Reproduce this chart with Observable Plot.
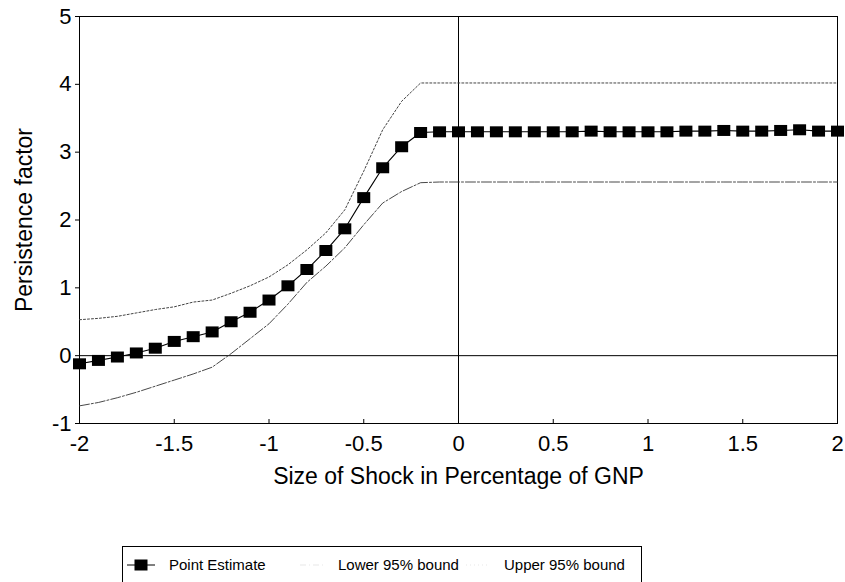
<!DOCTYPE html>
<html>
<head>
<meta charset="utf-8">
<script src="https://cdn.jsdelivr.net/npm/d3@7"></script>
<script src="https://cdn.jsdelivr.net/npm/@observablehq/plot@0.6"></script>
<style>
  body { margin: 0; background: #fff; font-family: "Liberation Sans", Arial, sans-serif; }
  #legend { position: absolute; left: 122px; top: 546px; width: 520px; height: 60px; border: 1px solid #000; box-sizing: border-box; font-size: 15px; color: #000; }
  #legend .item { position: absolute; top: 9px; display: flex; align-items: center; }
  #legend svg { display: block; }
</style>
</head>
<body>
<div id="chart"></div>
<div id="legend"></div>
<script>
const shock = [-2.0,-1.9,-1.8,-1.7,-1.6,-1.5,-1.4,-1.3,-1.2,-1.1,-1.0,-0.9,-0.8,-0.7,-0.6,-0.5,-0.4,-0.3,-0.2,-0.1,
  0.0,0.1,0.2,0.3,0.4,0.5,0.6,0.7,0.8,0.9,1.0,1.1,1.2,1.3,1.4,1.5,1.6,1.7,1.8,1.9,2.0];
const pointEstimate = [-0.12,-0.07,-0.02,0.04,0.11,0.21,0.28,0.35,0.50,0.64,0.82,1.03,1.27,1.55,1.87,2.33,2.77,3.08,3.29,3.30,
  3.30,3.30,3.30,3.30,3.30,3.30,3.30,3.31,3.30,3.30,3.30,3.30,3.31,3.31,3.32,3.31,3.31,3.32,3.33,3.31,3.31];
const lowerBound = [-0.74,-0.69,-0.62,-0.54,-0.45,-0.36,-0.27,-0.17,0.03,0.25,0.47,0.76,1.08,1.32,1.59,1.93,2.25,2.42,2.55,2.56,
  2.56,2.56,2.56,2.56,2.56,2.56,2.56,2.56,2.56,2.56,2.56,2.56,2.56,2.56,2.56,2.56,2.56,2.56,2.56,2.56,2.56];
const upperBound = [0.53,0.55,0.58,0.63,0.68,0.72,0.79,0.82,0.92,1.03,1.16,1.34,1.56,1.81,2.15,2.72,3.33,3.75,4.02,4.02,
  4.02,4.02,4.02,4.02,4.02,4.02,4.02,4.02,4.02,4.02,4.02,4.02,4.02,4.02,4.02,4.02,4.02,4.02,4.02,4.02,4.02];
const xTicks = [-2,-1.5,-1,-0.5,0,0.5,1,1.5,2];
const yTicks = [-1,0,1,2,3,4,5];
const seriesNames = ["Point Estimate","Lower 95% bound","Upper 95% bound"];
const xTitle = "Size of Shock in Percentage of GNP";
const yTitle = "Persistence factor";

const rows = shock.map((x, i) => ({x, p: pointEstimate[i], lo: lowerBound[i], hi: upperBound[i]}));
const rectSymbol = { draw(ctx) { ctx.rect(-6.5, -5.5, 13, 11); } };

const chart = Plot.plot({
  width: 845, height: 500,
  marginLeft: 79, marginRight: 8, marginTop: 16, marginBottom: 77,
  style: { fontFamily: "'Liberation Sans', Arial, sans-serif", fontSize: "22px", color: "#000", background: "#fff", overflow: "visible" },
  x: { domain: [-2, 2] },
  y: { domain: [-1, 5] },
  marks: [
    Plot.frame({ stroke: "#000", strokeWidth: 1 }),
    Plot.ruleY([0], { stroke: "#000", strokeWidth: 1 }),
    Plot.ruleX([0], { stroke: "#000", strokeWidth: 1 }),
    Plot.line(rows, { x: "x", y: "hi", stroke: "#444", strokeWidth: 1, strokeDasharray: "2,2" }),
    Plot.line(rows, { x: "x", y: "lo", stroke: "#333", strokeWidth: 0.9, strokeDasharray: "10,2,2,2" }),
    Plot.line(rows, { x: "x", y: "p", stroke: "#000", strokeWidth: 1.1 }),
    Plot.dot(rows, { x: "x", y: "p", symbol: rectSymbol, fill: "#000", stroke: "none", r: 6 }),
    Plot.axisX({ ticks: xTicks, tickSize: 0, tickPadding: 12, tickFormat: d => String(d), fontSize: 22,
      label: xTitle, labelAnchor: "center", labelOffset: 60, labelArrow: "none" }),
    Plot.tickX(xTicks, { x: d => d, stroke: "#000", strokeWidth: 1, insetTop: 403 }),
    Plot.axisY({ ticks: yTicks, tickSize: 4, tickPadding: 4, tickFormat: d => String(d), fontSize: 22,
      label: yTitle, labelAnchor: "center", labelOffset: 64, labelArrow: "none" })
  ]
});
chart.querySelectorAll("[aria-label$='axis label'] text, [aria-label$='axis label']").forEach(n => n.setAttribute("font-size", "23"));
document.getElementById("chart").appendChild(chart);

// legend
const legend = document.getElementById("legend");
const items = [
  { name: seriesNames[0], left: 4, kind: "p" },
  { name: seriesNames[1], left: 177, kind: "lo" },
  { name: seriesNames[2], left: 343, kind: "hi" }
];
for (const it of items) {
  const div = document.createElement("div");
  div.className = "item";
  div.style.left = it.left + "px";
  const sw = d3.create("svg").attr("width", it.kind === "p" ? 40 : 28).attr("height", 16);
  if (it.kind === "p") {
    sw.append("line").attr("x1", 0).attr("x2", 28).attr("y1", 8).attr("y2", 8).attr("stroke", "#000");
    sw.append("rect").attr("x", 7.5).attr("y", 2.5).attr("width", 13).attr("height", 11).attr("fill", "#000");
  } else {
    sw.append("line").attr("x1", 0).attr("x2", 24).attr("y1", 8).attr("y2", 8)
      .attr("stroke", "#ddd").attr("stroke-width", 0.7).attr("stroke-dasharray", it.kind === "hi" ? "1,3" : "6,3,1,3");
  }
  div.appendChild(sw.node());
  const span = document.createElement("span");
  span.textContent = it.name;
  span.style.marginLeft = it.kind === "p" ? "2px" : "10px";
  div.appendChild(span);
  legend.appendChild(div);
}
</script>
</body>
</html>
